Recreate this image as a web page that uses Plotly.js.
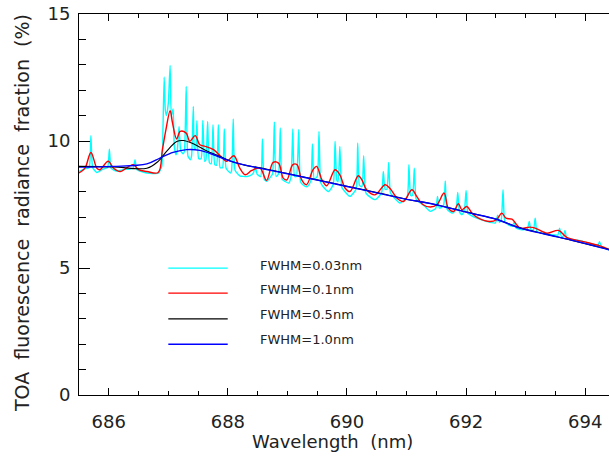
<!DOCTYPE html>
<html>
<head>
<meta charset="utf-8">
<script src="https://cdn.plot.ly/plotly-3.0.1.min.js"></script>
<style>
  html, body { margin: 0; padding: 0; background: #ffffff; overflow: hidden; }
  #chart { width: 640px; height: 456px; }
</style>
</head>
<body>
<div id="chart"></div>
<script>
// Simulated TOA fluorescence fraction across the O2-B band at four spectral resolutions.

// FWHM = 0.03 nm
const wl003 = [
  685.50, 685.60, 685.67, 685.70, 685.73, 685.80, 685.91, 685.98, 686.01, 686.04,
  686.13, 686.24, 686.36, 686.41, 686.44, 686.47, 686.64, 686.83, 686.89, 686.91,
  686.93, 686.95, 686.97, 687.00, 687.03, 687.05, 687.08, 687.10, 687.13, 687.15,
  687.18, 687.21, 687.25, 687.27, 687.30, 687.33, 687.37, 687.39, 687.42, 687.44,
  687.46, 687.48, 687.51, 687.55, 687.58, 687.61, 687.63, 687.66, 687.69, 687.72,
  687.75, 687.78, 687.81, 687.84, 687.87, 687.91, 687.94, 687.97, 688.04, 688.06,
  688.09, 688.12, 688.20, 688.32, 688.40, 688.43, 688.46, 688.49, 688.55, 688.58,
  688.61, 688.65, 688.72, 688.75, 688.78, 688.81, 688.85, 688.88, 688.91, 688.96,
  689.02, 689.06, 689.09, 689.12, 689.15, 689.19, 689.22, 689.26, 689.33, 689.39,
  689.42, 689.45, 689.50, 689.53, 689.56, 689.60, 689.69, 689.77, 689.80, 689.83,
  689.85, 689.88, 689.91, 689.94, 690.05, 690.15, 690.18, 690.21, 690.25, 690.28,
  690.31, 690.34, 690.47, 690.58, 690.61, 690.64, 690.67, 690.70, 690.73, 690.78,
  690.89, 691.01, 691.04, 691.07, 691.10, 691.13, 691.16, 691.20, 691.31, 691.40,
  691.49, 691.52, 691.55, 691.62, 691.65, 691.68, 691.77, 691.83, 691.86, 691.89,
  691.93, 691.97, 692.00, 692.03, 692.06, 692.18, 692.35, 692.49, 692.53, 692.56,
  692.59, 692.62, 692.65, 692.71, 692.78, 692.81, 692.84, 692.96, 693.03, 693.06,
  693.09, 693.13, 693.16, 693.19, 693.30, 693.41, 693.54, 693.57, 693.60, 693.63,
  693.66, 693.69, 693.85, 693.97, 694.19, 694.22, 694.24, 694.27, 694.40, 694.50
];
const fr003 = [
  8.80, 8.90, 8.95, 10.21, 8.95, 8.76, 8.90, 8.95, 9.68, 8.92,
  8.82, 8.87, 8.90, 8.93, 9.26, 8.88, 8.74, 8.73, 9.00, 10.50,
  12.52, 11.20, 11.00, 11.50, 12.97, 11.00, 11.26, 9.80, 9.46, 9.60,
  10.57, 9.60, 9.50, 9.60, 12.15, 9.40, 9.26, 9.40, 11.36, 9.70,
  9.70, 10.80, 9.30, 9.30, 10.81, 9.20, 9.25, 10.77, 9.15, 9.10,
  10.64, 9.07, 9.05, 10.64, 8.95, 8.95, 10.47, 8.93, 8.74, 8.80,
  10.87, 8.85, 8.63, 8.60, 8.67, 8.75, 9.00, 8.70, 8.60, 10.08,
  8.50, 8.41, 8.60, 8.70, 10.75, 8.60, 8.70, 10.51, 8.50, 8.41,
  8.34, 8.60, 10.47, 8.60, 8.60, 10.45, 8.40, 8.28, 8.20, 8.40,
  9.88, 8.50, 8.60, 10.38, 8.35, 8.20, 8.01, 8.30, 9.99, 8.45,
  8.40, 9.79, 8.20, 8.08, 7.82, 8.10, 9.92, 8.25, 8.20, 9.42,
  8.00, 7.88, 7.69, 7.95, 8.80, 8.10, 8.10, 9.16, 7.95, 7.80,
  7.56, 7.80, 9.07, 7.85, 7.85, 8.93, 7.72, 7.62, 7.42, 7.23,
  7.35, 7.82, 7.36, 7.45, 8.43, 7.32, 7.16, 7.30, 7.97, 7.20,
  7.10, 7.25, 8.05, 7.15, 7.10, 6.96, 6.83, 6.77, 7.08, 6.80,
  6.90, 8.08, 6.83, 6.70, 6.65, 6.83, 6.57, 6.50, 6.55, 6.83,
  6.50, 6.50, 6.96, 6.44, 6.36, 6.31, 6.30, 6.57, 6.24, 6.25,
  6.48, 6.18, 6.10, 6.04, 5.91, 5.92, 6.04, 5.86, 5.72, 5.68
];

// FWHM = 0.1 nm
const wl01 = [
  685.50, 685.60, 685.70, 685.80, 685.85, 685.99, 686.08, 686.19, 686.41, 686.50,
  686.64, 686.83, 686.90, 686.96, 687.03, 687.07, 687.14, 687.20, 687.30, 687.36,
  687.45, 687.53, 687.62, 687.76, 687.87, 687.98, 688.10, 688.20, 688.29, 688.40,
  688.54, 688.65, 688.76, 688.85, 688.93, 688.99, 689.09, 689.16, 689.24, 689.32,
  689.43, 689.49, 689.58, 689.66, 689.80, 689.88, 689.97, 690.05, 690.19, 690.25,
  690.33, 690.47, 690.64, 690.72, 690.84, 690.95, 691.09, 691.17, 691.28, 691.40,
  691.51, 691.63, 691.70, 691.79, 691.87, 691.93, 692.01, 692.10, 692.21, 692.40,
  692.51, 692.60, 692.67, 692.77, 692.91, 693.07, 693.16, 693.36, 693.55, 693.69,
  693.97, 694.25, 694.40, 694.50
];
const fr01 = [
  8.74, 8.93, 9.55, 8.93, 8.87, 9.20, 8.93, 8.80, 9.07, 8.87,
  8.80, 8.76, 9.66, 10.45, 11.19, 10.71, 10.08, 10.38, 10.31, 9.99,
  10.21, 9.85, 9.79, 9.66, 9.42, 9.20, 9.42, 8.93, 8.67, 8.84,
  8.93, 8.45, 9.16, 9.13, 8.54, 8.47, 9.07, 9.07, 8.47, 8.28,
  8.87, 9.00, 8.47, 8.24, 8.87, 8.67, 8.14, 8.01, 8.63, 8.47,
  8.08, 7.88, 8.28, 8.14, 7.75, 7.62, 8.08, 7.82, 7.49, 7.40,
  7.49, 7.95, 7.36, 7.23, 7.53, 7.29, 7.42, 7.16, 6.96, 6.83,
  6.90, 7.16, 6.96, 6.92, 6.57, 6.61, 6.57, 6.37, 6.48, 6.21,
  6.04, 5.87, 5.74, 5.69
];

// FWHM = 0.5 nm
const wl05 = [
  685.50, 686.07, 686.64, 686.83, 686.97, 687.14, 687.25, 687.42, 687.64, 687.87,
  688.09, 688.32, 688.54, 689.00, 689.50, 690.00, 690.50, 691.00, 691.40, 692.07,
  692.50, 692.91, 693.35, 693.75, 694.10, 694.40, 694.50
];
const fr05 = [
  9.00, 8.98, 8.93, 9.20, 9.59, 9.98, 10.02, 9.89, 9.62, 9.39,
  9.17, 9.03, 8.95, 8.72, 8.47, 8.22, 7.97, 7.71, 7.54, 7.17,
  6.93, 6.58, 6.33, 6.10, 5.90, 5.73, 5.68
];

// FWHM = 1.0 nm
const wl10 = [
  685.50, 686.07, 686.64, 686.86, 687.08, 687.31, 687.53, 687.76, 687.98, 688.20,
  688.43, 689.00, 689.50, 690.00, 690.50, 691.00, 691.40, 692.07, 692.50, 692.91,
  693.35, 693.75, 694.10, 694.40, 694.50
];
const fr10 = [
  8.97, 9.00, 9.10, 9.33, 9.55, 9.66, 9.63, 9.46, 9.26, 9.10,
  8.98, 8.71, 8.46, 8.21, 7.96, 7.70, 7.54, 7.16, 6.92, 6.57,
  6.32, 6.11, 5.90, 5.72, 5.67
];

const seriesLabels = ['FWHM=0.03nm', 'FWHM=0.1nm', 'FWHM=0.5nm', 'FWHM=1.0nm'];
const seriesX = [wl003, wl01, wl05, wl10];
const seriesY = [fr003, fr01, fr05, fr10];
const seriesColors = ['#00ffff', '#ff0000', '#000000', '#0000ff'];
const seriesWidths = [1.4, 1.4, 1.1, 1.4];
const seriesShapes = ['spline', 'spline', 'spline', 'spline'];
const seriesSmoothing = [0.5, 1.0, 1.0, 1.0];

const traces = seriesLabels.map((name, i) => ({
  type: 'scatter',
  mode: 'lines',
  name: name,
  x: seriesX[i],
  y: seriesY[i],
  line: { color: seriesColors[i], width: seriesWidths[i], shape: seriesShapes[i], smoothing: seriesSmoothing[i] },
  hoverinfo: 'skip'
}));

// Hand-placed key inside the plotting area (paper units of a 561 x 381 px plot box)
const keyLineX = [0.1592, 0.2651];
const keyLineY = [0.333, 0.2673, 0.1997, 0.1332];
const keyTextX = 0.3196;
const keyTextY = [0.341, 0.276, 0.212, 0.146];

const shapes = seriesLabels.map((_, i) => ({
  type: 'line', xref: 'paper', yref: 'paper',
  x0: keyLineX[0], x1: keyLineX[1], y0: keyLineY[i], y1: keyLineY[i],
  line: { color: seriesColors[i], width: seriesWidths[i] }
}));

const annotations = seriesLabels.map((name, i) => ({
  xref: 'paper', yref: 'paper', x: keyTextX, y: keyTextY[i],
  xanchor: 'left', yanchor: 'middle', showarrow: false,
  text: name, font: { family: 'DejaVu Sans', size: 13, color: '#222' }
}));

annotations.push({
  xref: 'paper', yref: 'paper', x: 0.4519, y: -0.121,
  xanchor: 'center', yanchor: 'middle', showarrow: false,
  text: 'Wavelength  (nm)', font: { family: 'DejaVu Sans', size: 18, color: '#222' }
});
annotations.push({
  xref: 'paper', yref: 'paper', x: -0.102, y: 0.477,
  xanchor: 'center', yanchor: 'middle', showarrow: false, textangle: -90,
  text: 'TOA  fluorescence  radiance  fraction  (%)',
  font: { family: 'DejaVu Sans', size: 19, color: '#222' }
});

const layout = {
  width: 640,
  height: 456,
  margin: { l: 79, r: 0, t: 14, b: 61 },
  paper_bgcolor: '#ffffff',
  plot_bgcolor: '#ffffff',
  showlegend: false,
  font: { family: 'DejaVu Sans', size: 18, color: '#222' },
  xaxis: {
    range: [685.5, 694.92],
    tick0: 686, dtick: 2,
    ticks: 'inside', ticklen: 7, tickwidth: 1, tickcolor: '#000',
    showline: true, linecolor: '#000', linewidth: 1, mirror: 'allticks',
    showgrid: false, zeroline: false,
    ticklabelstandoff: 10,
    minor: { tick0: 686, dtick: 0.5, ticks: 'inside', ticklen: 4, tickcolor: '#000', showgrid: false }
  },
  yaxis: {
    range: [0, 15],
    tick0: 0, dtick: 5,
    ticks: 'inside', ticklen: 11, tickwidth: 1, tickcolor: '#000',
    showline: true, linecolor: '#000', linewidth: 1, mirror: false,
    showgrid: false, zeroline: false,
    ticklabelstandoff: 4,
    minor: { tick0: 0, dtick: 1, ticks: 'inside', ticklen: 7, tickcolor: '#000', showgrid: false }
  },
  shapes: shapes,
  annotations: annotations
};

Plotly.newPlot('chart', traces, layout, { staticPlot: true, displayModeBar: false });
</script>
</body>
</html>
